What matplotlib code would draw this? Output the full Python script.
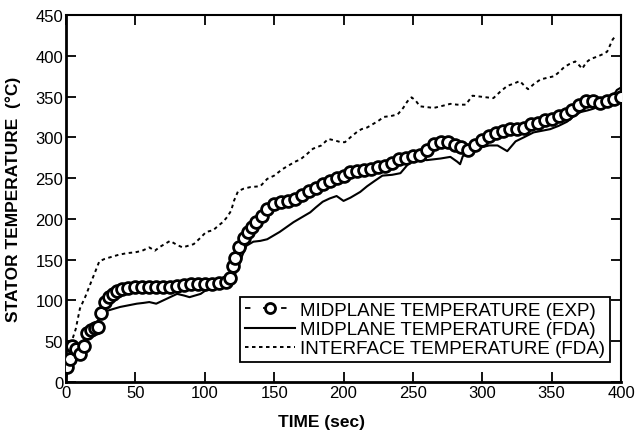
import matplotlib
matplotlib.use("Agg")
import matplotlib.pyplot as plt

plt.rcParams['font.family'] = ['Liberation Sans', 'DejaVu Sans']

# Experimental midplane temperature (circles)
exp_t = [1, 3, 4, 7, 10, 13, 15, 18, 21, 23, 25, 28, 31, 34, 37, 40, 45, 50, 55, 60,
         65, 70, 75, 80, 85, 90, 95, 100, 105, 110, 115, 118, 120, 122, 125, 128, 131,
         134, 137, 141, 145, 150, 155, 160, 165, 170, 175, 180, 185, 190, 195, 200,
         205, 210, 215, 220, 225, 230, 235, 240, 245, 250, 255, 260, 265, 270, 275,
         280, 285, 290, 295, 300, 305, 310, 315, 320, 325, 330, 335, 340, 345, 350,
         355, 360, 365, 370, 375, 380, 385, 390, 395, 400]
exp_T = [18, 28, 44, 40, 34, 44, 60, 64, 66, 68, 85, 98, 104, 108, 112, 114, 115, 116,
         116, 116, 116, 116, 117, 118, 119, 120, 120, 120, 120, 121, 122, 128, 142, 152,
         166, 176, 184, 190, 196, 204, 212, 218, 221, 222, 224, 229, 234, 238, 243, 246,
         250, 253, 257, 259, 260, 261, 263, 265, 269, 273, 275, 277, 278, 285, 292, 294,
         294, 291, 288, 284, 290, 297, 302, 305, 308, 310, 310, 312, 316, 318, 321, 322,
         326, 329, 334, 339, 344, 345, 342, 344, 347, 349]

# FDA midplane temperature (solid)
fda_t = [0, 2, 5, 10, 15, 20, 24, 27, 33, 39, 45, 51, 56, 60, 65, 70, 75, 80, 85, 89,
         93, 97, 102, 107, 113, 117, 120, 124, 127, 130, 135, 140, 145, 150, 154, 159,
         164, 170, 176, 180, 185, 190, 195, 200, 205, 212, 217, 222, 228, 235, 241, 248,
         255, 260, 265, 270, 277, 282, 284, 286, 292, 300, 305, 311, 318, 324, 330, 337,
         343, 349, 355, 361, 366, 371, 376, 380, 385, 390, 394, 397, 400]
fda_T = [5, 18, 32, 45, 56, 68, 78, 86, 89, 92, 94, 96, 97, 98, 96, 100, 104, 108, 106,
         104, 106, 108, 114, 116, 118, 121, 126, 140, 155, 167, 172, 173, 175, 180, 184,
         190, 196, 202, 208, 214, 221, 225, 228, 222, 226, 233, 240, 246, 253, 254, 256,
         270, 273, 272, 273, 274, 276, 270, 267, 277, 282, 288, 290, 290, 283, 295, 300,
         306, 308, 310, 314, 319, 326, 331, 333, 335, 339, 343, 350, 358, 361]

# FDA interface temperature (dotted)
int_t = [0, 3, 7, 10, 14, 17, 21, 24, 28, 32, 38, 44, 50, 55, 60, 64, 68, 75, 80, 84,
         88, 92, 97, 101, 106, 110, 113, 116, 119, 121, 124, 128, 133, 140, 145, 150,
         156, 160, 165, 169, 174, 178, 184, 189, 194, 198, 201, 205, 210, 213, 217, 221,
         225, 229, 234, 239, 243, 246, 249, 252, 255, 260, 265, 270, 277, 282, 288, 293,
         298, 303, 308, 313, 318, 323, 327, 331, 333, 337, 342, 347, 352, 356, 359, 363,
         367, 370, 372, 375, 378, 383, 387, 390, 394, 396]
int_T = [12, 44, 65, 90, 105, 118, 135, 148, 151, 153, 156, 158, 159, 161, 165, 161, 166,
         173, 168, 165, 167, 169, 177, 184, 186, 192, 196, 202, 210, 222, 234, 237, 239,
         240, 249, 253, 261, 265, 270, 273, 280, 286, 290, 298, 296, 294, 294, 300, 307,
         310, 312, 316, 320, 325, 326, 328, 336, 344, 349, 345, 338, 337, 336, 338, 341,
         340, 340, 351, 350, 349, 348, 356, 363, 366, 369, 362, 359, 365, 371, 373, 375,
         381, 386, 390, 393, 388, 384, 392, 396, 399, 402, 405, 420, 424]

x_ticks = [0, 50, 100, 150, 200, 250, 300, 350, 400]
y_ticks = [0, 50, 100, 150, 200, 250, 300, 350, 400, 450]

fig = plt.figure(figsize=(6.35, 4.31), dpi=100)
ax = fig.add_axes([0.104, 0.1114, 0.874, 0.8516])

ax.plot(exp_t, exp_T, color='black', linestyle=(0, (3, 7)), linewidth=1.3,
        marker='o', markersize=8.5, markerfacecolor='white', markeredgecolor='black',
        markeredgewidth=2.0, label='MIDPLANE TEMPERATURE (EXP)', zorder=3)
ax.plot(fda_t, fda_T, color='black', linestyle='-', linewidth=1.5,
        label='MIDPLANE TEMPERATURE (FDA)', zorder=2)
ax.plot(int_t, int_T, color='black', linestyle=(0, (1.8, 1.8)), linewidth=1.4,
        label='INTERFACE TEMPERATURE (FDA)', zorder=2)

ax.set_xlim(0, 400)
ax.set_ylim(0, 450)
ax.set_xticks(x_ticks)
ax.set_yticks(y_ticks)
ax.tick_params(direction='in', length=7, width=1.3, top=True, right=True,
               labelsize=12, pad=2)
for side, lw in [('left', 2.0), ('bottom', 2.0), ('top', 1.5), ('right', 1.5)]:
    ax.spines[side].set_linewidth(lw)

ax.set_xlabel('TIME (sec)', fontsize=12.5, fontweight='bold')
ax.xaxis.set_label_coords(0.46, -0.088)
ax.set_ylabel('STATOR TEMPERATURE  (°C)', fontsize=12.5, fontweight='bold')
ax.yaxis.set_label_coords(-0.081, 0.5)

leg = ax.legend(loc='lower right', bbox_to_anchor=(0.98, 0.054), borderaxespad=0,
                fontsize=13.5, frameon=True, fancybox=False, edgecolor='black',
                handlelength=2.7, handletextpad=0.27, labelspacing=0.12,
                borderpad=0.25, markerscale=0.85)
leg.get_frame().set_linewidth(1.3)
leg.get_frame().set_alpha(1)

fig.savefig('out.png', dpi=100)
